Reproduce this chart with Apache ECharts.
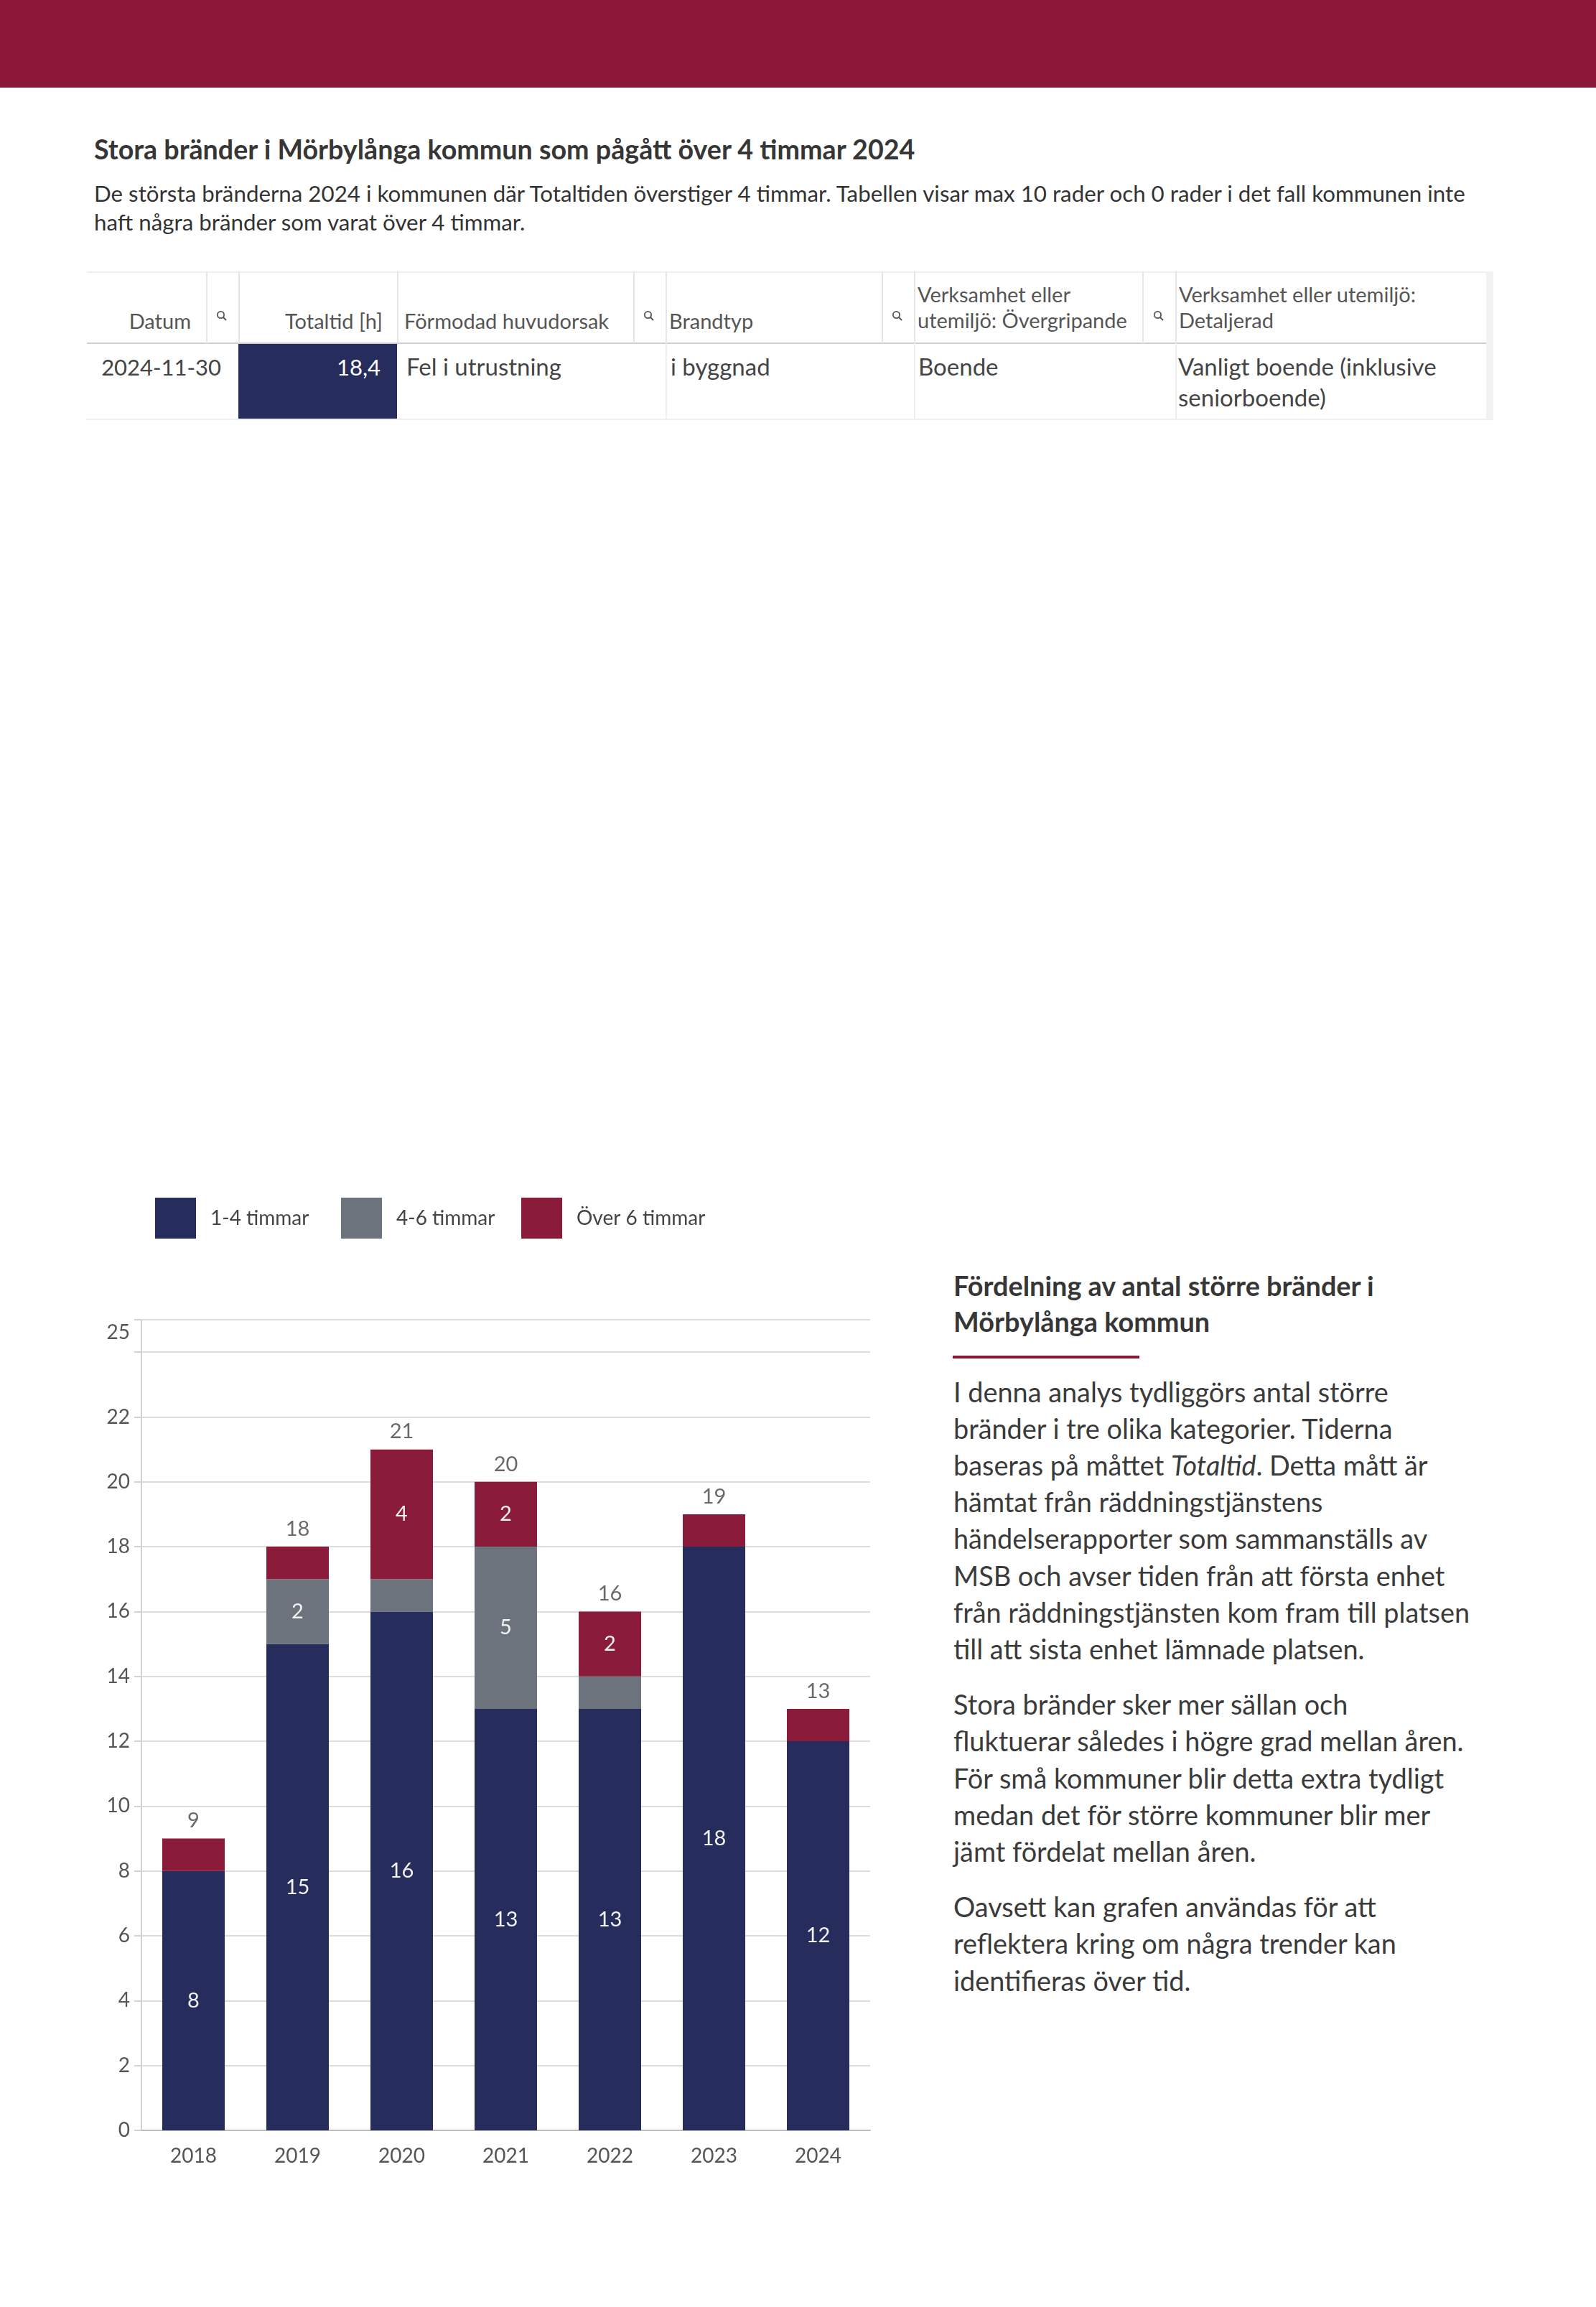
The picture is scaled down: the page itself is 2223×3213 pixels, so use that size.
<!DOCTYPE html>
<html><head><meta charset="utf-8">
<script src="https://cdn.jsdelivr.net/npm/echarts@6/dist/echarts.min.js"></script>
<style>
html,body{margin:0;padding:0;background:#fff;}
body{width:2223px;height:3213px;position:relative;overflow:hidden;font-family:Lato,"Noto Sans",sans-serif;color:#3c3c3c;}
#band{position:absolute;left:0;top:0;width:2223px;height:122px;background:#8b1739;}
.t{position:absolute;white-space:nowrap;}
.ln{position:absolute;}
#chart{position:absolute;left:0;top:1600px;width:1260px;height:1500px;}
</style></head>
<body>
<div id="band"></div>
<div id="chart"></div>
<script>
// ---------------- data ----------------
const years = ['2018','2019','2020','2021','2022','2023','2024'];
const seriesNames = ['1-4 timmar','4-6 timmar','Över 6 timmar'];
const h1to4 = [8,15,16,13,13,18,12];
const h4to6 = [0,2,1,5,1,0,0];
const hOver6 = [1,1,4,2,2,1,1];
const yMax = 25, yStep = 2;

const titleText = 'Stora bränder i Mörbylånga kommun som pågått över 4 timmar 2024';
const subLines = ['De största bränderna 2024 i kommunen där Totaltiden överstiger 4 timmar. Tabellen visar max 10 rader och 0 rader i det fall kommunen inte',
                  'haft några bränder som varat över 4 timmar.'];
const tableHead = ['Datum','Totaltid [h]','Förmodad huvudorsak','Brandtyp','Verksamhet eller|utemiljö: Övergripande','Verksamhet eller utemiljö:|Detaljerad'];
const tableRow = ['2024-11-30','18,4','Fel i utrustning','i byggnad','Boende','Vanligt boende (inklusive|seniorboende)'];
const headingLines = ['Fördelning av antal större bränder i','Mörbylånga kommun'];
const paragraphs = [
 ['I denna analys tydliggörs antal större','bränder i tre olika kategorier. Tiderna','baseras på måttet <i>Totaltid</i>. Detta mått är','hämtat från räddningstjänstens','händelserapporter som sammanställs av','MSB och avser tiden från att första enhet','från räddningstjänsten kom fram till platsen','till att sista enhet lämnade platsen.'],
 ['Stora bränder sker mer sällan och','fluktuerar således i högre grad mellan åren.','För små kommuner blir detta extra tydligt','medan det för större kommuner blir mer','jämt fördelat mellan åren.'],
 ['Oavsett kan grafen användas för att','reflektera kring om några trender kan','identifieras över tid.']
];

// ---------------- helpers ----------------
function measure(html, size, weight){
  const s=document.createElement('span');
  s.style.cssText='position:absolute;visibility:hidden;white-space:nowrap;font-family:Lato;font-size:'+size+'px;font-weight:'+(weight||400);
  s.innerHTML=html; document.body.appendChild(s); const w=s.getBoundingClientRect().width; s.remove(); return w;
}
function T(html,x,baseline,size,o){
  o=o||{};
  const d=document.createElement('div'); d.className='t'; d.innerHTML=html;
  d.style.fontSize=size+'px'; d.style.lineHeight=(size*1.2)+'px';
  d.style.fontWeight=o.weight||400; d.style.color=o.color||'#3c3c3c';
  if(o.ls) d.style.letterSpacing=o.ls+'px';
  d.style.top=(baseline-0.987*size)+'px';
  if(o.align==='right') d.style.right=(2223-x)+'px'; else d.style.left=x+'px';
  document.body.appendChild(d); return d;
}
function R(x,y,w,h,c){const d=document.createElement('div');d.className='ln';d.style.cssText='left:'+x+'px;top:'+y+'px;width:'+w+'px;height:'+h+'px;background:'+c;document.body.appendChild(d);}
function fit(html,target,size,weight){return size*target/measure(html,size,weight);}
function mag(cx,cy){
  const d=document.createElement('div');d.className='ln';d.style.left=(cx-8)+'px';d.style.top=(cy-8)+'px';
  d.innerHTML='<svg width="16" height="16" viewBox="0 0 16 16"><circle cx="6.5" cy="6.5" r="4.6" fill="none" stroke="#555" stroke-width="1.8"/><line x1="10" y1="10" x2="14" y2="14" stroke="#555" stroke-width="2"/></svg>';
  document.body.appendChild(d);
}

// ---------------- titles ----------------
const ts = fit(titleText,1144,37,700);
T(titleText,131,222,ts,{weight:700,color:'#363636'});
const ss = fit(subLines[0],1910,26,400);
T(subLines[0],131,282,ss,{color:'#333'});
T(subLines[1],131,322,ss,{color:'#333'});

// ---------------- table ----------------
const TL=121, TT=378, TH=478, TB=584, TR=2080;
R(TL,TT,TR-TL,2,'#efefef');
R(TL,TH-1,TR-TL,2,'#cfcfcf');
R(TL,TB-1,TR-TL,2,'#efefef');
R(2070,TT,10,TB-TT,'#f2f2f2');
[287,332,553,882,927,1228,1273,1591,1637].forEach(x=>R(x,TT,2,TH-TT,'#e6e6e6'));
[927,1273,1637].forEach(x=>R(x,TH,2,TB-TH,'#f0f0f0'));
R(332,TH+1,221,TB-TH-2,'#262c5c');
[309,904,1250,1614].forEach(x=>mag(x,440));
const hs=29, hc='#555';
T(tableHead[0],266,459,hs,{align:'right',color:hc});
T(tableHead[1],533,459,hs,{align:'right',color:hc});
T(tableHead[2],563,459,hs,{color:hc});
T(tableHead[3],932,459,hs,{color:hc});
tableHead[4].split('|').forEach((l,i)=>T(l,1278,422+36*i,hs,{color:hc}));
tableHead[5].split('|').forEach((l,i)=>T(l,1642,422+36*i,hs,{color:hc}));
const rs=31, rs2=33, rc='#444';
T(tableRow[0],308,524,rs,{align:'right',color:rc});
T(tableRow[1],530,524,rs,{align:'right',color:'#fff'});
T(tableRow[2],566,524,rs2,{color:rc});
T(tableRow[3],934,524,rs2,{color:rc});
T(tableRow[4],1279,524,rs2,{color:rc});
tableRow[5].split('|').forEach((l,i)=>T(l,1641,524+43*i,rs2,{color:rc}));

// ---------------- right text panel ----------------
const hz = fit(headingLines[0],586,37,700);
headingLines.forEach((l,i)=>T(l,1328,1805+50*i,hz,{weight:700,color:'#363636'}));
R(1327,1888,260,4,'#8b1739');
const pz = fit(paragraphs[0][0],606,35,400);
let b=1953;
paragraphs.forEach((p,pi)=>{ if(pi>0) b+=26; p.forEach(l=>{T(l,1328,b,pz,{color:'#3a3a3a'}); b+=51.2;}); });

// ---------------- chart ----------------
const totals = years.map((_,i)=>h1to4[i]+h4to6[i]+hOver6[i]);
const colors = ['#262c5c','#6c737c','#8b1b3a'];
const chart = echarts.init(document.getElementById('chart'),null,{renderer:'canvas'});
const segLabel = {show:true,position:'inside',color:'#f2f2f2',fontSize:29,fontFamily:'Lato',formatter:p=>p.value>1?String(p.value):''};
const legendBase = {icon:'rect',itemWidth:57,itemHeight:57,top:68,padding:0,selectedMode:false,
  textStyle:{fontSize:28,color:'#444',fontFamily:'Lato',padding:[0,0,0,15]}};
chart.setOption({
  animation:false,
  textStyle:{fontFamily:'Lato'},
  color:colors,
  legend:[
    Object.assign({},legendBase,{left:216,data:[seriesNames[0]]}),
    Object.assign({},legendBase,{left:475,data:[seriesNames[1]]}),
    Object.assign({},legendBase,{left:726,data:[seriesNames[2]]})
  ],
  grid:{left:197,top:238,width:1015,height:1129,containLabel:false},
  xAxis:{type:'category',data:years,
    axisLine:{lineStyle:{color:'#bdbdbd',width:2}},axisTick:{show:false},
    axisLabel:{fontSize:28,color:'#555',margin:22,fontFamily:'Lato'}},
  yAxis:{type:'value',min:0,max:yMax,interval:yStep,
    axisLine:{show:true,lineStyle:{color:'#d2d2d2',width:2}},
    axisTick:{show:true,length:10,lineStyle:{color:'#d2d2d2',width:2}},
    splitLine:{lineStyle:{color:'#dcdcdc',width:2}},
    axisLabel:{fontSize:28,color:'#555',margin:16,fontFamily:'Lato',
      formatter:v=>v===yMax?'{t|'+v+'}':(v>yMax-yStep?'':String(v)),
      rich:{t:{fontSize:28,color:'#555',fontFamily:'Lato',padding:[36,0,0,0]}}}},
  series:[
    {name:seriesNames[0],type:'bar',stack:'a',barWidth:'60%',data:h1to4,label:segLabel,itemStyle:{color:colors[0]}},
    {name:seriesNames[1],type:'bar',stack:'a',barWidth:'60%',data:h4to6,label:segLabel,itemStyle:{color:colors[1]}},
    {name:seriesNames[2],type:'bar',stack:'a',barWidth:'60%',data:hOver6,label:segLabel,itemStyle:{color:colors[2]}},
    {name:'Totalt',type:'scatter',data:totals,symbol:'circle',symbolSize:0,itemStyle:{color:'rgba(0,0,0,0)'},z:10,silent:true,
      label:{show:true,position:'top',distance:10,fontSize:29,color:'#444',fontFamily:'Lato',formatter:p=>String(p.value)}}
  ]
});
</script>
</body></html>
